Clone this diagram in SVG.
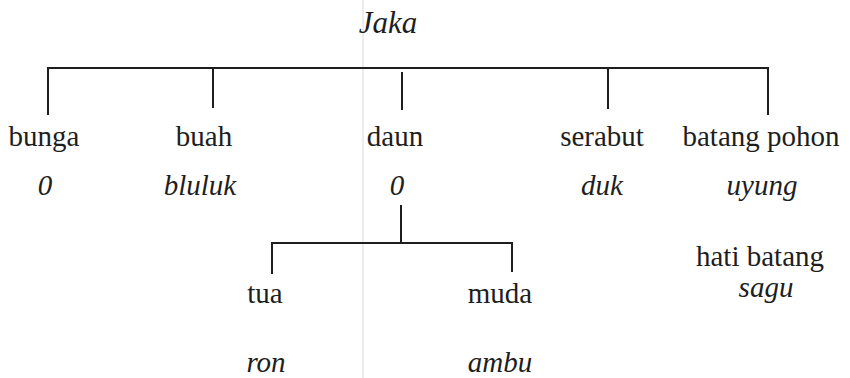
<svg xmlns="http://www.w3.org/2000/svg" width="850" height="378" viewBox="0 0 850 378">
<style>
text{font-family:"Liberation Serif","Times New Roman",serif;font-size:29px;fill:#1e1e1e;text-anchor:middle}
.it{font-style:italic}
.ln{stroke:#1e1e1e;stroke-width:2;fill:none}
</style>
<rect width="850" height="378" fill="#ffffff"/>
<line x1="363" y1="0" x2="363" y2="378" stroke="#dadada" stroke-width="1"/>
<g id="connectors">
<path class="ln" d="M48 115 V68 H768 V115"/>
<path class="ln" d="M213 68 V108"/>
<path class="ln" d="M402 72 V110"/>
<path class="ln" d="M608 68 V109"/>
<path class="ln" d="M401 205 V243"/>
<path class="ln" d="M272 274 V243 H512 V272"/>
</g>
<g id="jaka"><text class="it" x="388" y="33" style="font-size:31px">Jaka</text></g>
<g id="bunga"><text x="44" y="146">bunga</text><text class="it" x="45" y="195">0</text></g>
<g id="buah"><text x="204" y="146">buah</text><text class="it" x="200" y="195">bluluk</text></g>
<g id="daun"><text x="395" y="146">daun</text><text class="it" x="397" y="195">0</text></g>
<g id="serabut"><text x="602" y="146">serabut</text><text class="it" x="602" y="195">duk</text></g>
<g id="batang"><text x="761" y="146">batang pohon</text><text class="it" x="762" y="195">uyung</text></g>
<g id="hati"><text x="760" y="266">hati batang</text><text class="it" x="766" y="297">sagu</text></g>
<g id="tua"><text x="265" y="303">tua</text><text class="it" x="266" y="372">ron</text></g>
<g id="muda"><text x="500" y="303">muda</text><text class="it" x="500" y="372">ambu</text></g>
</svg>
